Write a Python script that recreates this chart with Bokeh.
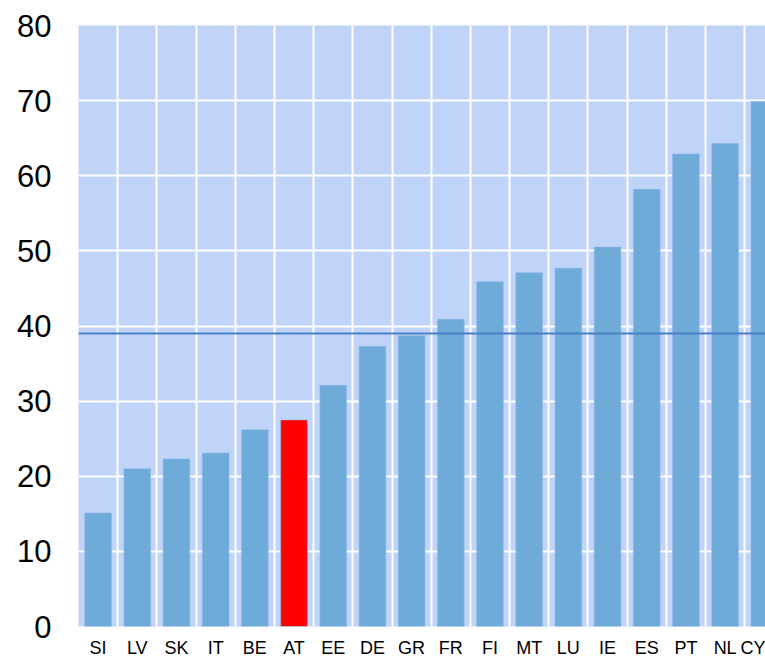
from bokeh.plotting import figure
from bokeh.models import ColumnDataSource, FixedTicker, Span, Range1d
from bokeh.embed import file_html
from bokeh.resources import INLINE

countries = ["SI", "LV", "SK", "IT", "BE", "AT", "EE", "DE", "GR", "FR",
             "FI", "MT", "LU", "IE", "ES", "PT", "NL", "CY"]
values = [15.1, 21.0, 22.3, 23.1, 26.2, 27.5, 32.1, 37.3, 38.7, 40.9,
          45.9, 47.1, 47.7, 50.5, 58.2, 62.9, 64.3, 69.9]
average = 39.0
highlight = "AT"
y_ticks = [0, 10, 20, 30, 40, 50, 60, 70, 80]

xs = [i + 0.5 for i in range(len(countries))]
colors = ["#ff0000" if c == highlight else "#6fabd9" for c in countries]
src = ColumnDataSource(dict(x=xs, top=values, color=colors, name=countries))

p = figure(width=765, height=660, output_backend="svg", toolbar_location=None,
           x_range=Range1d(0, 17.53), y_range=Range1d(0, 80),
           min_border_left=78, min_border_right=0, min_border_top=25,
           min_border_bottom=30)
p.background_fill_color = "#c0d3f8"
p.border_fill_color = "white"
p.outline_line_color = None

p.vbar(x="x", top="top", bottom=0, width=0.68, color="color",
       line_color="#8ab8e6", line_alpha=0.6, source=src)

p.add_layout(Span(location=average, dimension="width",
                  line_color="#4a80c4", line_width=2))

p.xgrid.ticker = FixedTicker(ticks=list(range(1, len(countries) + 1)))
p.xgrid.grid_line_color = "white"
p.xgrid.grid_line_width = 2
p.ygrid.ticker = FixedTicker(ticks=y_ticks)
p.ygrid.grid_line_color = "white"
p.ygrid.grid_line_width = 2

p.xaxis.ticker = FixedTicker(ticks=xs)
p.xaxis.major_label_overrides = {x: c for x, c in zip(xs, countries)}
p.yaxis.ticker = FixedTicker(ticks=y_ticks)

for ax in (p.xaxis[0], p.yaxis[0]):
    ax.axis_line_color = None
    ax.major_tick_line_color = None
    ax.minor_tick_line_color = None
    ax.major_tick_out = 0
    ax.major_tick_in = 0
    ax.minor_tick_out = 0
    ax.minor_tick_in = 0
    ax.major_label_text_font = "Liberation Sans"
    ax.major_label_text_color = "black"

p.xaxis.major_label_text_font_size = "18px"
p.xaxis.major_label_standoff = 11
p.yaxis.major_label_text_font_size = "31px"
p.yaxis.major_label_standoff = 27

open("out.html", "w").write(file_html(p, INLINE))
